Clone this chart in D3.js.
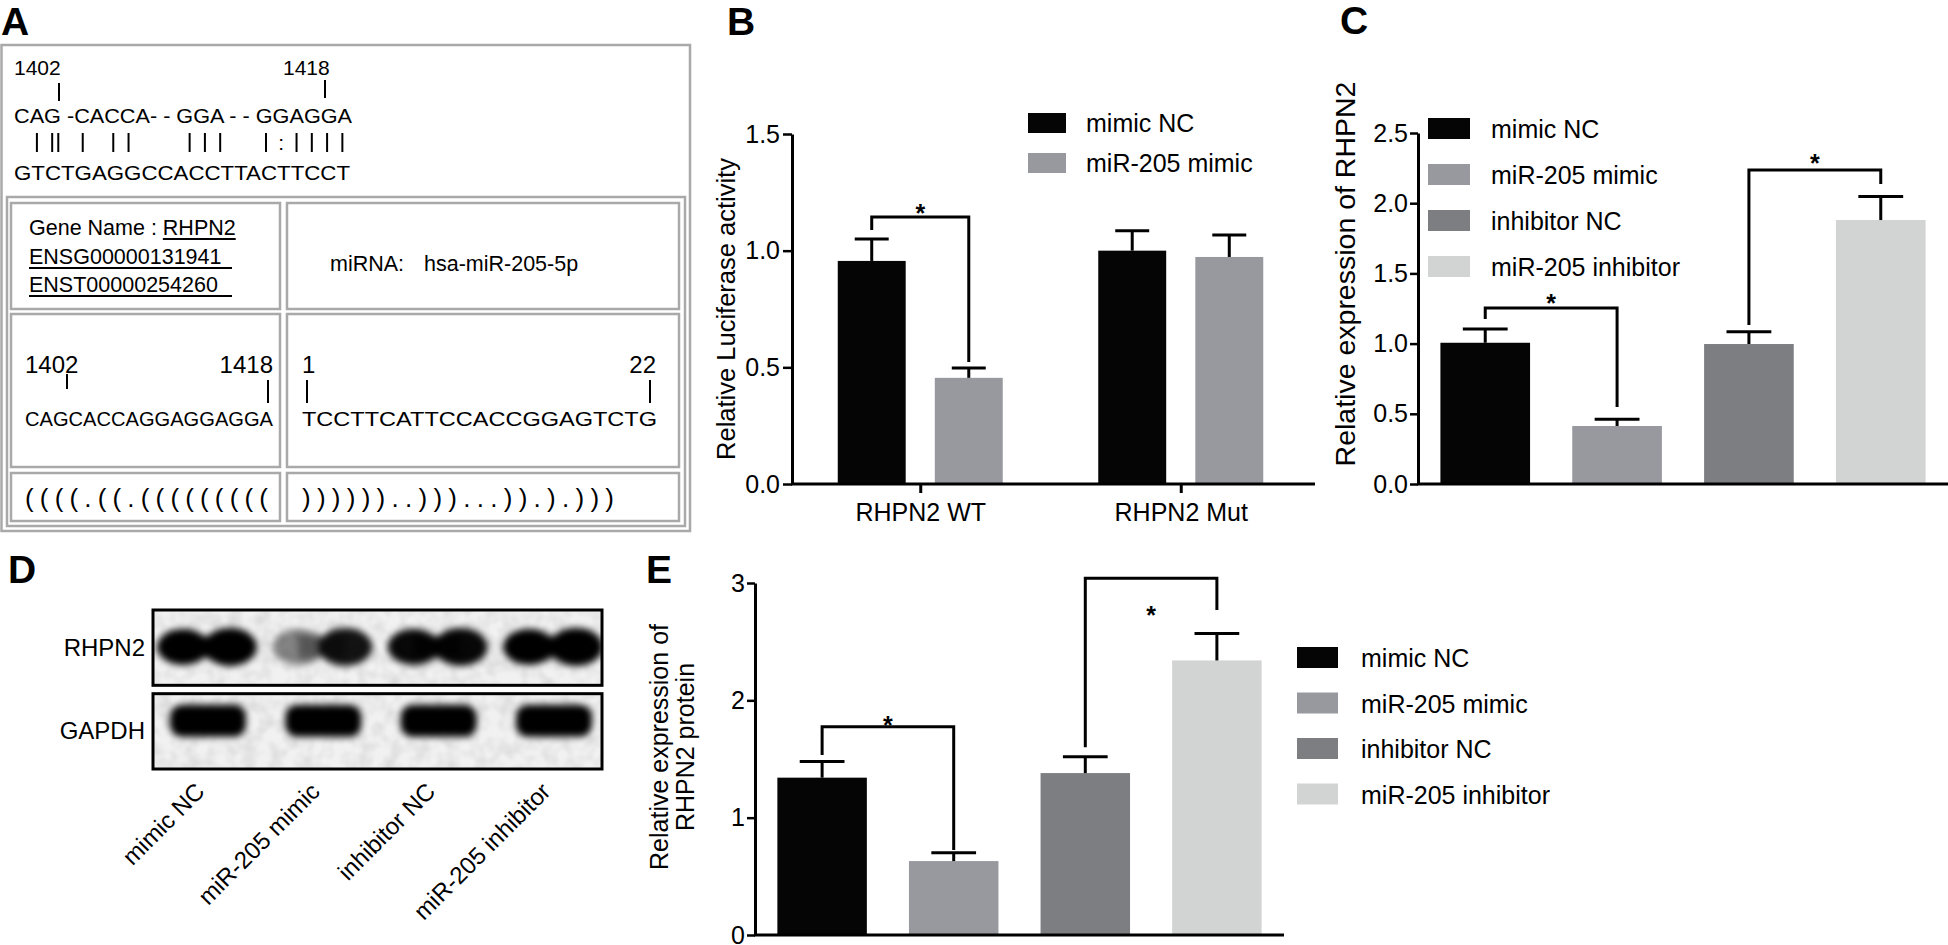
<!DOCTYPE html>
<html><head><meta charset="utf-8">
<script src="https://cdn.jsdelivr.net/npm/d3@7"></script>
<style>body{margin:0;background:#fff}</style>
</head><body>
<svg id="fig" width="1948" height="945" xmlns="http://www.w3.org/2000/svg"></svg>
<script>
// ================= DATA =================
const panelLetters = ["A", "B", "C", "D", "E"];

// Panel A : binding site
const targetStart = 1402, targetEnd = 1418;
const alignTop = "CAG -CACCA- - GGA - - GGAGGA";
const alignBottom = "GTCTGAGGCCACCTTACTTCCT";
const pairIndex = [1, 2, 2.4, 4, 6, 7, 11, 12, 13, 16, 18, 19, 20, 21];
const wobbleIndex = [17];
const geneName = "RHPN2";
const geneIds = ["ENSG00000131941", "ENST00000254260"];
const mirnaName = "hsa-miR-205-5p";
const targetSeq = "CAGCACCAGGAGGAGGA";
const mirnaSeq = "TCCTTCATTCCACCGGAGTCTG";
const mirnaStart = 1, mirnaEnd = 22;
const structLeft = "((((.((.(((((((((";
const structRight = "))))))..)))...)).).)))";

// Panel B : luciferase
const groupsB = ["RHPN2 WT", "RHPN2 Mut"];
const seriesB = ["mimic NC", "miR-205 mimic"];
const lucMimicNC = [0.956, 1.000];
const lucMir205 = [0.455, 0.973];
const lucMimicNCsd = [0.094, 0.085];
const lucMir205sd = [0.042, 0.094];
const ticksB = [0, 0.5, 1.0, 1.5];
const sigB = { group: "RHPN2 WT", level: 1.144, leftEnd: 1.089, rightEnd: 0.523, star: 1.183 };

// Panels C / E shared categories
const groupsCE = ["mimic NC", "miR-205 mimic", "inhibitor NC", "miR-205 inhibitor"];
const barColors = ["#050505", "#97999f", "#7d7e82", "#d2d3d3"];

// Panel C : mRNA
const mrnaMean = [1.006, 0.413, 0.997, 1.880];
const mrnaSD = [0.098, 0.049, 0.088, 0.167];
const ticksC = [0, 0.5, 1.0, 1.5, 2.0, 2.5];
const sigCpairs = [[0, 1], [2, 3]];
const sigClevel = [1.254, 2.236];
const sigCleft = [1.175, 1.132];
const sigCright = [0.548, 2.137];
const sigCstar = [1.328, 2.325];

// Panel D : western blot
const blotRows = ["RHPN2", "GAPDH"];
const rhpn2LeftLobe = [1.0, 0.45, 0.97, 1.0];
const rhpn2RightLobe = [1.0, 0.92, 0.97, 1.0];
const gapdhBand = [1.0, 1.0, 1.0, 1.0];

// Panel E : protein
const proteinMean = [1.341, 0.630, 1.380, 2.340];
const proteinSD = [0.137, 0.070, 0.140, 0.230];
const ticksE = [0, 1, 2, 3];
const sigEpairs = [[0, 1], [2, 3]];
const sigElevel = [1.775, 3.04];
const sigEleft = [1.535, 1.60];
const sigEright = [0.725, 2.77];
const sigEstar = [1.833, 2.77];

// ================= DRAW =================
const FONT = '"Liberation Sans", Arial, Helvetica, sans-serif';
const svg = d3.select("#fig").attr("font-family", FONT);
const defs = svg.append("defs");
defs.append("filter").attr("id", "blur").attr("x", "-50%").attr("y", "-50%").attr("width", "200%").attr("height", "200%")
  .append("feGaussianBlur").attr("stdDeviation", 3.8);
const nf = defs.append("filter").attr("id", "noise");
nf.append("feTurbulence").attr("type", "fractalNoise").attr("baseFrequency", 0.07).attr("numOctaves", 2).attr("seed", 4);
nf.append("feColorMatrix").attr("type", "matrix")
  .attr("values", "0 0 0 0 0.55  0 0 0 0 0.55  0 0 0 0 0.55  0 0 0 0.9 -0.32");

// panel letters
const letterPos = [[1, 35], [727, 35], [1340, 34], [8, 583], [646, 583]];
svg.selectAll("text.plabel").data(panelLetters).join("text").attr("class", "plabel")
  .attr("x", (d, i) => letterPos[i][0]).attr("y", (d, i) => letterPos[i][1])
  .attr("font-size", 39).attr("font-weight", "bold").text(d => d);

// ---------- Panel A ----------
(function () {
  const g = svg.append("g");
  const boxC = "#a9a9a9";
  g.append("rect").attr("x", 1.5).attr("y", 45).attr("width", 688.5).attr("height", 486).attr("fill", "none").attr("stroke", boxC).attr("stroke-width", 2.5);
  g.append("rect").attr("x", 7).attr("y", 197).attr("width", 678).attr("height", 329).attr("fill", "none").attr("stroke", boxC).attr("stroke-width", 2.5);
  const cols = [[11, 280], [287, 679]], rows = [[203, 309], [314, 467], [473, 521]];
  rows.forEach(r => cols.forEach(c => g.append("rect").attr("x", c[0]).attr("y", r[0]).attr("width", c[1] - c[0]).attr("height", r[1] - r[0])
    .attr("fill", "none").attr("stroke", boxC).attr("stroke-width", 2.5)));

  // alignment
  const fs = 21;
  g.append("text").attr("x", 14).attr("y", 75).attr("font-size", fs).text(targetStart);
  g.append("text").attr("x", 283).attr("y", 75).attr("font-size", fs).text(targetEnd);
  g.append("line").attr("x1", 59).attr("x2", 59).attr("y1", 83).attr("y2", 101).attr("stroke", "#000").attr("stroke-width", 2);
  g.append("line").attr("x1", 325).attr("x2", 325).attr("y1", 80).attr("y2", 98).attr("stroke", "#000").attr("stroke-width", 2);
  g.append("text").attr("x", 14).attr("y", 123).attr("font-size", fs).attr("textLength", 338).attr("lengthAdjust", "spacingAndGlyphs").text(alignTop);
  g.append("text").attr("x", 14).attr("y", 180).attr("font-size", fs).attr("textLength", 336).attr("lengthAdjust", "spacingAndGlyphs").text(alignBottom);
  const cx = d3.scaleLinear().domain([0, alignBottom.length]).range([14, 350]);
  g.selectAll("line.pair").data(pairIndex).join("line").attr("class", "pair")
    .attr("x1", d => cx(d + 0.5)).attr("x2", d => cx(d + 0.5)).attr("y1", 133).attr("y2", 152)
    .attr("stroke", "#000").attr("stroke-width", 2);
  g.selectAll("text.wob").data(wobbleIndex).join("text").attr("class", "wob")
    .attr("x", d => cx(d + 0.5)).attr("y", 150).attr("text-anchor", "middle").attr("font-size", fs).text(":");

  // row 1
  const t1 = g.append("text").attr("x", 29).attr("y", 235).attr("font-size", 21.5).attr("style", "white-space:pre").text("Gene Name : ");
  const w1 = t1.node().getComputedTextLength();
  const t2 = g.append("text").attr("x", 29 + w1).attr("y", 235).attr("font-size", 21.5).text(geneName);
  const w2 = t2.node().getComputedTextLength();
  g.append("line").attr("x1", 29 + w1).attr("x2", 29 + w1 + w2).attr("y1", 239).attr("y2", 239).attr("stroke", "#000").attr("stroke-width", 2);
  geneIds.forEach((id, i) => {
    const yy = 264 + i * 28;
    g.append("text").attr("x", 29).attr("y", yy).attr("font-size", 21.5).text(id);
    g.append("line").attr("x1", 29).attr("x2", 232).attr("y1", yy + 4).attr("y2", yy + 4).attr("stroke", "#000").attr("stroke-width", 2);
  });
  g.append("text").attr("x", 330).attr("y", 271).attr("font-size", 21.5).text("miRNA:");
  g.append("text").attr("x", 424).attr("y", 271).attr("font-size", 21.5).text(mirnaName);

  // row 2
  g.append("text").attr("x", 25).attr("y", 373).attr("font-size", 24).text(targetStart);
  g.append("line").attr("x1", 67).attr("x2", 67).attr("y1", 374).attr("y2", 389).attr("stroke", "#000").attr("stroke-width", 2);
  g.append("text").attr("x", 273).attr("y", 373).attr("text-anchor", "end").attr("font-size", 24).text(targetEnd);
  g.append("line").attr("x1", 268).attr("x2", 268).attr("y1", 380).attr("y2", 403).attr("stroke", "#000").attr("stroke-width", 2);
  g.append("text").attr("x", 302).attr("y", 373).attr("font-size", 24).text(mirnaStart);
  g.append("line").attr("x1", 307).attr("x2", 307).attr("y1", 380).attr("y2", 403).attr("stroke", "#000").attr("stroke-width", 2);
  g.append("text").attr("x", 656).attr("y", 373).attr("text-anchor", "end").attr("font-size", 24).text(mirnaEnd);
  g.append("line").attr("x1", 650).attr("x2", 650).attr("y1", 380).attr("y2", 403).attr("stroke", "#000").attr("stroke-width", 2);
  g.append("text").attr("x", 25).attr("y", 426).attr("font-size", 20).attr("textLength", 248).attr("lengthAdjust", "spacingAndGlyphs").text(targetSeq);
  g.append("text").attr("x", 302).attr("y", 426).attr("font-size", 21).attr("textLength", 355).attr("lengthAdjust", "spacingAndGlyphs").text(mirnaSeq);

  // row 3
  g.append("text").attr("x", 25).attr("y", 507).attr("font-size", 26).attr("textLength", 243).attr("lengthAdjust", "spacing").text(structLeft);
  g.append("text").attr("x", 302).attr("y", 507).attr("font-size", 26).attr("textLength", 312).attr("lengthAdjust", "spacing").text(structRight);
})();

// ---------- helpers ----------
function yAxis(g, y, x0, ticks, fmt, tickSize, pad) {
  const a = g.append("g").attr("transform", `translate(${x0},0)`)
    .call(d3.axisLeft(y).tickValues(ticks).tickFormat(fmt).tickSize(tickSize).tickPadding(pad).tickSizeOuter(0));
  a.attr("font-family", FONT).attr("font-size", 25);
  a.select(".domain").attr("stroke", "#000").attr("stroke-width", 3);
  a.selectAll(".tick line").attr("stroke", "#000").attr("stroke-width", 2.5);
  a.selectAll(".tick text").attr("fill", "#000");
  return a;
}
function errorBars(g, xs, bw, y, means, sds) {
  const idx = d3.range(means.length);
  g.selectAll(null).data(idx).join("line")
    .attr("x1", i => xs(i)).attr("x2", i => xs(i)).attr("y1", i => y(means[i])).attr("y2", i => y(means[i] + sds[i]))
    .attr("stroke", "#000").attr("stroke-width", 3);
  g.selectAll(null).data(idx).join("line")
    .attr("x1", i => xs(i) - bw / 4).attr("x2", i => xs(i) + bw / 4).attr("y1", i => y(means[i] + sds[i])).attr("y2", i => y(means[i] + sds[i]))
    .attr("stroke", "#000").attr("stroke-width", 3);
}
function bracket(g, xa, xb, y, level, l, r, star) {
  g.append("path").attr("d", `M${xa},${y(l)}V${y(level)}H${xb}V${y(r)}`)
    .attr("fill", "none").attr("stroke", "#000").attr("stroke-width", 3);
  g.append("text").attr("x", (xa + xb) / 2).attr("y", y(star) + 14).attr("text-anchor", "middle")
    .attr("font-size", 25).attr("font-weight", "bold").text("*");
}
function legend(g, x, y0, step, sw, sh, names, colors, gap) {
  names.forEach((n, i) => {
    g.append("rect").attr("x", x).attr("y", y0 + i * step).attr("width", sw).attr("height", sh).attr("fill", colors[i]);
    g.append("text").attr("x", x + sw + gap).attr("y", y0 + i * step + sh - 1).attr("font-size", 25).text(n);
  });
}

// ---------- Panel B ----------
(function () {
  const g = svg.append("g");
  const x = d3.scalePoint().domain(groupsB).range([790, 1311]).padding(0.5);
  const xi = d3.scaleBand().domain(seriesB).range([-82.5, 82.5]).paddingInner(0.3);
  const y = d3.scaleLinear().domain([0, 1.5]).range([484, 134]);
  const bw = xi.bandwidth();
  const seriesVals = [lucMimicNC, lucMir205];
  const seriesSd = [lucMimicNCsd, lucMir205sd];
  const seriesCol = [barColors[0], barColors[1]];
  seriesB.forEach((s, si) => {
    const xs = i => x(groupsB[i]) + xi(s) + bw / 2;
    g.selectAll(null).data(seriesVals[si]).join("rect")
      .attr("x", (d, i) => xs(i) - bw / 2).attr("width", bw)
      .attr("y", d => y(d)).attr("height", d => y(0) - y(d)).attr("fill", seriesCol[si]);
    errorBars(g, xs, bw, y, seriesVals[si], seriesSd[si]);
  });
  yAxis(g, y, 792, ticksB, d3.format(".1f"), 9, 3);
  const xa = g.append("g").attr("transform", `translate(0,${y(0)})`)
    .call(d3.axisBottom(x).tickSize(9).tickPadding(10).tickSizeOuter(0));
  xa.attr("font-family", FONT).attr("font-size", 25);
  xa.select(".domain").remove();
  xa.selectAll(".tick line").attr("stroke", "#000").attr("stroke-width", 3);
  xa.selectAll(".tick text").attr("fill", "#000");
  g.append("line").attr("x1", 791).attr("x2", 1315).attr("y1", y(0)).attr("y2", y(0)).attr("stroke", "#000").attr("stroke-width", 3);
  g.append("text").attr("transform", `translate(735,${(y(0) + y(1.5)) / 2}) rotate(-90)`).attr("text-anchor", "middle")
    .attr("font-size", 25.5).text("Relative Luciferase activity");
  const gx = x(sigB.group);
  bracket(g, gx + xi(seriesB[0]) + bw / 2, gx + xi(seriesB[1]) + bw / 2, y, sigB.level, sigB.leftEnd, sigB.rightEnd, sigB.star);
  legend(g, 1028, 113, 40, 38, 20, seriesB, seriesCol, 20);
})();

// ---------- Panel C ----------
(function () {
  const g = svg.append("g");
  const x = d3.scaleBand().domain(groupsCE).range([1418, 1948]).paddingInner(0.32).paddingOuter(0.17);
  const y = d3.scaleLinear().domain([0, 2.5]).range([484, 133]);
  const bw = x.bandwidth();
  const xs = i => x(groupsCE[i]) + bw / 2;
  g.selectAll(null).data(mrnaMean).join("rect")
    .attr("x", (d, i) => x(groupsCE[i])).attr("width", bw)
    .attr("y", d => y(d)).attr("height", d => y(0) - y(d)).attr("fill", (d, i) => barColors[i]);
  errorBars(g, xs, bw, y, mrnaMean, mrnaSD);
  yAxis(g, y, 1418, ticksC, d3.format(".1f"), 8, 2);
  g.append("line").attr("x1", 1417).attr("x2", 1948).attr("y1", y(0)).attr("y2", y(0)).attr("stroke", "#000").attr("stroke-width", 3);
  g.append("text").attr("transform", `translate(1355,${274}) rotate(-90)`).attr("text-anchor", "middle")
    .attr("font-size", 28.5).text("Relative expression of RHPN2");
  sigCpairs.forEach((p, k) => bracket(g, xs(p[0]), xs(p[1]), y, sigClevel[k], sigCleft[k], sigCright[k], sigCstar[k]));
  legend(g, 1428, 118, 46, 42, 21, groupsCE, barColors, 21);
})();

// ---------- Panel D ----------
(function () {
  const g = svg.append("g");
  const lane = d3.scalePoint().domain(groupsCE).range([208, 554]);
  const row = d3.scaleBand().domain(blotRows).range([610, 769]).paddingInner(0.1);
  const rh = row.bandwidth();
  blotRows.forEach((r, ri) => {
    const cp = defs.append("clipPath").attr("id", "clip" + ri);
    cp.append("rect").attr("x", 153).attr("y", row(r)).attr("width", 449).attr("height", rh);
    const bg = g.append("g").attr("clip-path", `url(#clip${ri})`);
    bg.append("rect").attr("x", 153).attr("y", row(r)).attr("width", 449).attr("height", rh).attr("fill", "#f1f1f1");
    bg.append("rect").attr("x", 153).attr("y", row(r)).attr("width", 449).attr("height", rh).attr("filter", "url(#noise)");
    const bands = bg.append("g").attr("filter", "url(#blur)");
    if (r === "RHPN2") {
      const cy = row(r) + rh * 0.49;
      groupsCE.forEach((c, i) => {
        const cx = lane(c);
        bands.append("ellipse").attr("cx", cx - 25).attr("cy", cy).attr("rx", 26).attr("ry", 18).attr("fill", "#000").attr("opacity", rhpn2LeftLobe[i]);
        bands.append("ellipse").attr("cx", cx + 22).attr("cy", cy).attr("rx", 27).attr("ry", 19).attr("fill", "#000").attr("opacity", rhpn2RightLobe[i]);
        bands.append("rect").attr("x", cx - 25).attr("y", cy - 11).attr("width", 48).attr("height", 22).attr("fill", "#000")
          .attr("opacity", Math.min(rhpn2LeftLobe[i], rhpn2RightLobe[i]) * 0.8);
      });
    } else {
      const cy = row(r) + rh * 0.36;
      groupsCE.forEach((c, i) => {
        const cx = lane(c);
        bands.append("rect").attr("x", cx - 38).attr("y", cy - 16).attr("width", 76).attr("height", 32).attr("rx", 12)
          .attr("fill", "#000").attr("opacity", gapdhBand[i]);
      });
    }
    g.append("rect").attr("x", 153).attr("y", row(r)).attr("width", 449).attr("height", rh)
      .attr("fill", "none").attr("stroke", "#000").attr("stroke-width", 3);
    g.append("text").attr("x", 145).attr("y", row(r) + rh * 0.5 + 8).attr("text-anchor", "end").attr("font-size", 24).text(r);
  });
  g.selectAll("text.lane").data(groupsCE).join("text").attr("class", "lane")
    .attr("transform", d => `translate(${lane(d) - 2},${793}) rotate(-45)`)
    .attr("text-anchor", "end").attr("font-size", 24).text(d => d);
})();

// ---------- Panel E ----------
(function () {
  const g = svg.append("g");
  const x = d3.scaleBand().domain(groupsCE).range([755, 1284]).paddingInner(0.32).paddingOuter(0.17);
  const y = d3.scaleLinear().domain([0, 3]).range([935, 583]);
  const bw = x.bandwidth();
  const xs = i => x(groupsCE[i]) + bw / 2;
  g.selectAll(null).data(proteinMean).join("rect")
    .attr("x", (d, i) => x(groupsCE[i])).attr("width", bw)
    .attr("y", d => y(d)).attr("height", d => y(0) - y(d)).attr("fill", (d, i) => barColors[i]);
  errorBars(g, xs, bw, y, proteinMean, proteinSD);
  yAxis(g, y, 755, ticksE, d3.format("d"), 8, 2);
  g.append("line").attr("x1", 754).attr("x2", 1284).attr("y1", y(0)).attr("y2", y(0)).attr("stroke", "#000").attr("stroke-width", 3);
  const lab = g.append("text").attr("transform", `translate(668,${747}) rotate(-90)`).attr("text-anchor", "middle").attr("font-size", 25);
  lab.append("tspan").attr("x", 0).attr("dy", 0).text("Relative expression of");
  lab.append("tspan").attr("x", 0).attr("dy", 26).text("RHPN2 protein");
  sigEpairs.forEach((p, k) => bracket(g, xs(p[0]), xs(p[1]), y, sigElevel[k], sigEleft[k], sigEright[k], sigEstar[k]));
  legend(g, 1297, 647, 45.5, 41, 21, groupsCE, barColors, 23);
})();
</script>
</body></html>
